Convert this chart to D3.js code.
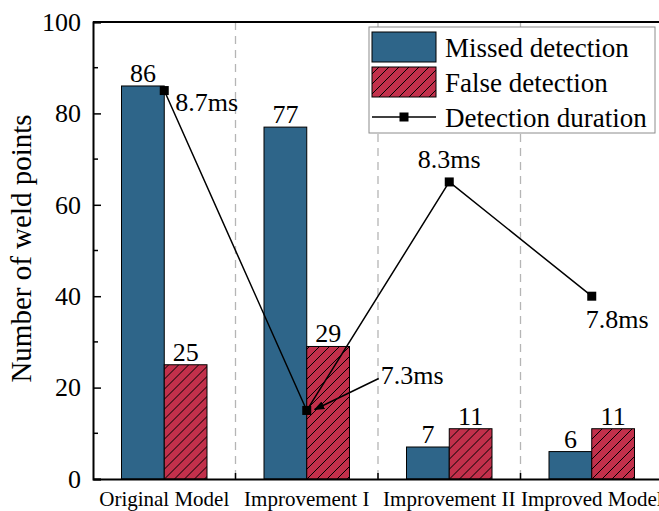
<!DOCTYPE html>
<html>
<head>
<meta charset="utf-8">
<script src="https://cdn.jsdelivr.net/npm/d3@7"></script>
<style>
  body { margin: 0; background: #fff; }
  svg { display: block; }
  svg text { font-family: "Liberation Serif", "Times New Roman", serif; fill: #000; }
</style>
</head>
<body>
<div id="chart"></div>
<script>
// chart data
const categories = ["Original Model", "Improvement I", "Improvement II", "Improved Model"];
const missed = [86, 77, 7, 6];
const falseDet = [25, 29, 11, 11];
const duration = [8.7, 7.3, 8.3, 7.8];
const durationLabels = ["8.7ms", "7.3ms", "8.3ms", "7.8ms"];
const yTicks = [0, 20, 40, 60, 80, 100];
const seriesNames = ["Missed detection", "False detection", "Detection duration"];

const MARGIN = { TOP: 22, BOTTOM: 32, LEFT: 93, RIGHT: -4 };
const SVG_W = 659;
const SVG_H = 511;
const WIDTH = SVG_W - MARGIN.LEFT - MARGIN.RIGHT;
const HEIGHT = SVG_H - MARGIN.TOP - MARGIN.BOTTOM;

const BLUE = "#2e6589";
const RED = "#c2304b";

const svg = d3
  .select("#chart")
  .append("svg")
  .attr("width", SVG_W)
  .attr("height", SVG_H)
  .attr("font-family", "Liberation Serif, Times New Roman, serif");

// hatch for the false detection bars
const defs = svg.append("defs");
const hatch = defs
  .append("pattern")
  .attr("id", "hatch")
  .attr("patternUnits", "userSpaceOnUse")
  .attr("width", 10)
  .attr("height", 10);
hatch.append("rect").attr("width", 10).attr("height", 10).attr("fill", RED);
hatch
  .append("path")
  .attr("d", "M-1,1 L1,-1 M0,10 L10,0 M9,11 L11,9")
  .attr("stroke", "#000")
  .attr("stroke-width", 1);

defs
  .append("marker")
  .attr("id", "arrow")
  .attr("viewBox", "0 0 10 10")
  .attr("refX", 9)
  .attr("refY", 5)
  .attr("markerWidth", 7)
  .attr("markerHeight", 7)
  .attr("orient", "auto")
  .append("path")
  .attr("d", "M0,1 L10,5 L0,9 z")
  .attr("fill", "#000");

const g = svg.append("g").attr("transform", `translate(${MARGIN.LEFT}, ${MARGIN.TOP})`);

const x = d3
  .scaleBand()
  .domain(categories)
  .range([0, WIDTH])
  .paddingInner(0.4)
  .paddingOuter(0.2);

const xSub = d3
  .scaleBand()
  .domain([0, 1])
  .range([0, x.bandwidth()]);

const y = d3.scaleLinear().domain([0, 100]).range([HEIGHT, 0]);
// right-hand scale used by the duration line (axis itself is cut off)
const yRight = d3.scaleLinear().domain([7, 9]).range([HEIGHT, 0]);

// dashed separators between groups
const step = x.step();
g.selectAll("line.sep")
  .data(d3.range(1, categories.length))
  .enter()
  .append("line")
  .attr("class", "sep")
  .attr("x1", (d) => d * step)
  .attr("x2", (d) => d * step)
  .attr("y1", 0)
  .attr("y2", HEIGHT)
  .attr("stroke", "#b5b5b5")
  .attr("stroke-width", 1.3)
  .attr("stroke-dasharray", "8,6");

// bars
const groups = g
  .selectAll("g.cat")
  .data(categories)
  .enter()
  .append("g")
  .attr("class", "cat")
  .attr("transform", (d) => `translate(${x(d)},0)`);

groups
  .append("rect")
  .attr("x", xSub(0))
  .attr("y", (d, i) => y(missed[i]))
  .attr("width", xSub.bandwidth())
  .attr("height", (d, i) => HEIGHT - y(missed[i]))
  .attr("fill", BLUE)
  .attr("stroke", "#000")
  .attr("stroke-width", 1);

groups
  .append("rect")
  .attr("x", xSub(1))
  .attr("y", (d, i) => y(falseDet[i]))
  .attr("width", xSub.bandwidth())
  .attr("height", (d, i) => HEIGHT - y(falseDet[i]))
  .attr("fill", "url(#hatch)")
  .attr("stroke", "#000")
  .attr("stroke-width", 1);

groups
  .append("text")
  .attr("x", xSub(0) + xSub.bandwidth() / 2)
  .attr("y", (d, i) => y(missed[i]) - 4)
  .attr("text-anchor", "middle")
  .attr("font-size", 26)
  .text((d, i) => missed[i]);

groups
  .append("text")
  .attr("x", xSub(1) + xSub.bandwidth() / 2)
  .attr("y", (d, i) => y(falseDet[i]) - 4)
  .attr("text-anchor", "middle")
  .attr("font-size", 26)
  .text((d, i) => falseDet[i]);

// frame: top line and axes
g.append("line")
  .attr("x1", 0)
  .attr("x2", WIDTH)
  .attr("y1", 0)
  .attr("y2", 0)
  .attr("stroke", "#000")
  .attr("stroke-width", 2);

const yAxis = g
  .append("g")
  .call(d3.axisLeft(y).tickValues(yTicks).tickSize(-8).tickPadding(12));
yAxis.attr("font-family", null);
yAxis.select(".domain").attr("stroke-width", 2);
yAxis.selectAll(".tick line").attr("stroke-width", 1.5);
yAxis.selectAll("text").attr("font-size", 26);

// minor ticks
g.selectAll("line.minor")
  .data(d3.range(10, 100, 20))
  .enter()
  .append("line")
  .attr("x1", 0)
  .attr("x2", 5)
  .attr("y1", (d) => y(d))
  .attr("y2", (d) => y(d))
  .attr("stroke", "#000")
  .attr("stroke-width", 1.5);

const xAxis = g
  .append("g")
  .attr("transform", `translate(0,${HEIGHT})`)
  .call(d3.axisBottom(x).tickSize(0).tickPadding(12));
xAxis.attr("font-family", null);
xAxis.select(".domain").attr("stroke-width", 2);
xAxis.selectAll("text").attr("font-size", 21);

g.selectAll("line.xtick")
  .data(d3.range(1, categories.length))
  .enter()
  .append("line")
  .attr("x1", (d) => d * step)
  .attr("x2", (d) => d * step)
  .attr("y1", HEIGHT)
  .attr("y2", HEIGHT - 6)
  .attr("stroke", "#000")
  .attr("stroke-width", 1.5);

// y title
svg
  .append("text")
  .attr("transform", `translate(31, ${MARGIN.TOP + HEIGHT / 2 - 2}) rotate(-90)`)
  .attr("text-anchor", "middle")
  .attr("font-size", 29)
  .text("Number of weld points");

// duration line
const cx = (d, i) => x(categories[i]) + x.bandwidth() / 2;
const line = d3
  .line()
  .x(cx)
  .y((d) => yRight(d));

g.append("path")
  .datum(duration)
  .attr("d", line)
  .attr("fill", "none")
  .attr("stroke", "#000")
  .attr("stroke-width", 1.5);

g.selectAll("rect.pt")
  .data(duration)
  .enter()
  .append("rect")
  .attr("class", "pt")
  .attr("x", (d, i) => cx(d, i) - 4.5)
  .attr("y", (d) => yRight(d) - 4.5)
  .attr("width", 9)
  .attr("height", 9)
  .attr("fill", "#000");

// duration labels (offsets relative to each point)
const labelOffsets = [
  { dx: 11, dy: 20, anchor: "start" },
  { dx: 74, dy: -26, anchor: "start" },
  { dx: 0, dy: -14, anchor: "middle" },
  { dx: -6, dy: 32, anchor: "start" }
];

g.selectAll("text.dur")
  .data(duration)
  .enter()
  .append("text")
  .attr("class", "dur")
  .attr("x", (d, i) => cx(d, i) + labelOffsets[i].dx)
  .attr("y", (d) => yRight(d))
  .attr("dy", (d, i) => labelOffsets[i].dy)
  .attr("text-anchor", (d, i) => labelOffsets[i].anchor)
  .attr("font-size", 26)
  .text((d, i) => durationLabels[i]);

// arrow pointing at the 7.3ms point
g.append("line")
  .attr("x1", cx(duration[1], 1) + 72)
  .attr("y1", yRight(duration[1]) - 32)
  .attr("x2", cx(duration[1], 1) + 8)
  .attr("y2", yRight(duration[1]) - 1)
  .attr("stroke", "#000")
  .attr("stroke-width", 1.5)
  .attr("marker-end", "url(#arrow)");

// legend
const legend = svg.append("g").attr("transform", "translate(369, 27)");
legend
  .append("rect")
  .attr("width", 286)
  .attr("height", 106)
  .attr("fill", "#fff")
  .attr("stroke", "#8c8c8c")
  .attr("stroke-width", 1);

legend
  .append("rect")
  .attr("x", 3)
  .attr("y", 5)
  .attr("width", 64)
  .attr("height", 30)
  .attr("fill", BLUE)
  .attr("stroke", "#000")
  .attr("stroke-width", 1);

legend
  .append("rect")
  .attr("x", 3)
  .attr("y", 40)
  .attr("width", 64)
  .attr("height", 30)
  .attr("fill", "url(#hatch)")
  .attr("stroke", "#000")
  .attr("stroke-width", 1);

legend
  .append("line")
  .attr("x1", 3)
  .attr("x2", 67)
  .attr("y1", 90)
  .attr("y2", 90)
  .attr("stroke", "#000")
  .attr("stroke-width", 1.5);

legend
  .append("rect")
  .attr("x", 35 - 4.5)
  .attr("y", 90 - 4.5)
  .attr("width", 9)
  .attr("height", 9)
  .attr("fill", "#000");

legend
  .selectAll("text.leg")
  .data(seriesNames)
  .enter()
  .append("text")
  .attr("class", "leg")
  .attr("x", 76)
  .attr("y", (d, i) => 30 + i * 35)
  .attr("font-size", 27)
  .text((d) => d);
</script>
</body>
</html>
